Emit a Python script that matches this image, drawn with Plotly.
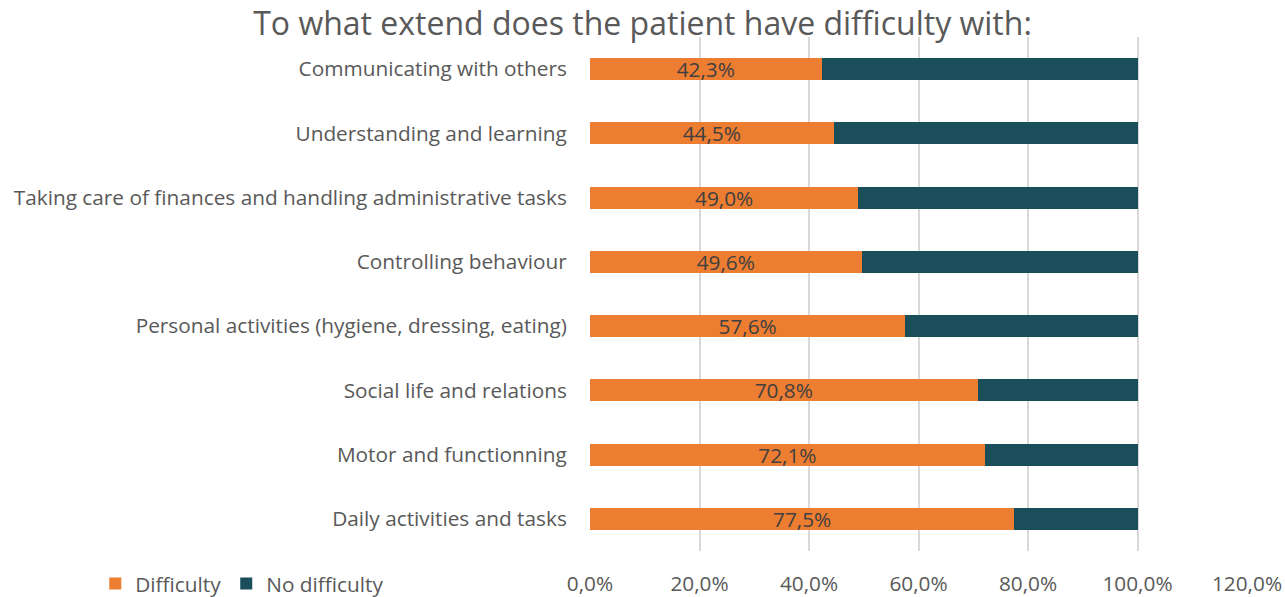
import plotly.graph_objects as go

categories = [
    "Communicating with others",
    "Understanding and learning",
    "Taking care of finances and handling administrative tasks",
    "Controlling behaviour",
    "Personal activities (hygiene, dressing, eating)",
    "Social life and relations",
    "Motor and functionning",
    "Daily activities and tasks",
]
difficulty = [42.3, 44.5, 49.0, 49.6, 57.6, 70.8, 72.1, 77.5]
no_difficulty = [57.7, 55.5, 51.0, 50.4, 42.4, 29.2, 27.9, 22.5]
x_ticks = [0, 20, 40, 60, 80, 100, 120]
x_tick_labels = [f"{v:.1f}%".replace(".", ",") for v in x_ticks]

FONT = "Open Sans"
TXT = "#595959"
FS = 20.8

fig = go.Figure()
fig.add_trace(go.Bar(
    y=categories, x=difficulty, orientation="h", name="Difficulty",
    marker=dict(color="#ED7D31", line=dict(width=0)),
    texttemplate="%{x:.1f}%", textposition="inside", insidetextanchor="middle",
    constraintext="none",
    textfont=dict(color="#404040", size=FS, family=FONT),
    hoverinfo="skip",
))
fig.add_trace(go.Bar(
    y=categories, x=no_difficulty, orientation="h", name="No difficulty",
    marker=dict(color="#1B4E5B", line=dict(width=0)),
    hoverinfo="skip",
))

fig.update_layout(
    barmode="stack",
    bargap=0.66,
    width=1285, height=597,
    separators=",.",
    paper_bgcolor="white", plot_bgcolor="white",
    margin=dict(l=590, r=38, t=37, b=46, autoexpand=False),
    font=dict(family=FONT, color=TXT, size=FS),
    title=dict(text="To what extend does the patient have difficulty with:",
               x=0.5, xref="container", xanchor="center",
               y=1 - 24 / 597, yref="container", yanchor="middle",
               font=dict(size=32, color=TXT, family=FONT)),
    legend=dict(orientation="h", x=-0.753, xanchor="left", y=-0.064, yanchor="middle",
                font=dict(size=FS, color=TXT), traceorder="normal",
                itemwidth=30, itemsizing="constant"),
    xaxis=dict(range=[0, 120], tickvals=x_ticks, ticktext=x_tick_labels,
               showgrid=True, gridcolor="#D9D9D9", gridwidth=2,
               zeroline=False, showline=False, automargin=False,
               ticks="outside", ticklen=14, tickcolor="rgba(0,0,0,0)",
               tickfont=dict(size=FS, color=TXT)),
    yaxis=dict(autorange="reversed", showgrid=False, showline=False, automargin=False,
               ticks="outside", ticklen=18, tickcolor="rgba(0,0,0,0)",
               tickfont=dict(size=FS, color=TXT)),
)

fig.write_html("out.html", config={"displayModeBar": False},
               post_script="document.body.style.margin='0px';")
